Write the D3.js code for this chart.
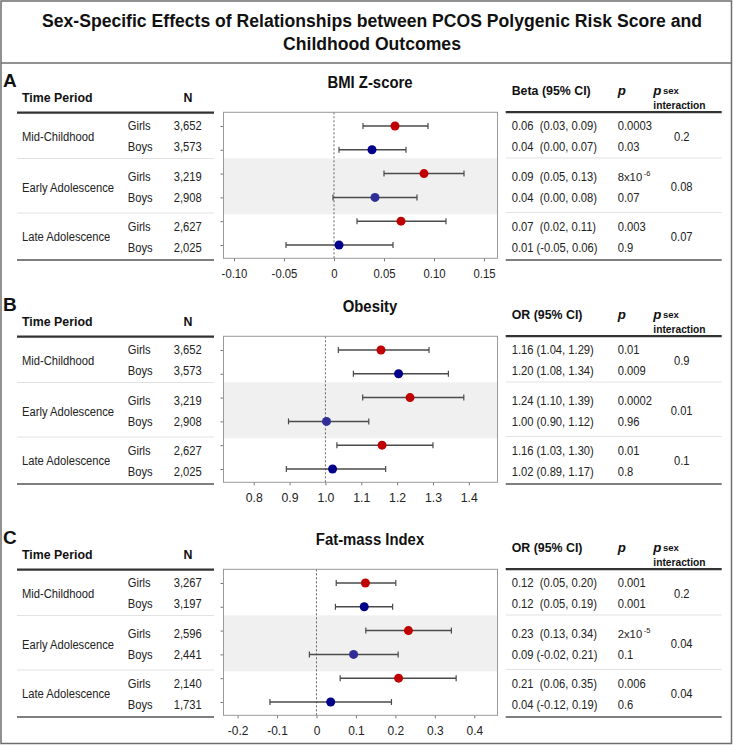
<!DOCTYPE html>
<html><head><meta charset="utf-8">
<script src="https://cdn.jsdelivr.net/npm/d3@7"></script>
<style>
html,body{margin:0;padding:0;background:#fff;}
text{font-family:"Liberation Sans",Arial,Helvetica,sans-serif;white-space:pre;}
</style></head>
<body><div id="chart"></div>
<script>
// ---------- DATA ----------
const mainTitle = ["Sex-Specific Effects of Relationships between PCOS Polygenic Risk Score and", "Childhood Outcomes"];
const panelLetters = ["A", "B", "C"];
const panelTitles = ["BMI Z-score", "Obesity", "Fat-mass Index"];
const effectHeaders = ["Beta (95% CI)", "OR (95% CI)", "OR (95% CI)"];
const periods = ["Mid-Childhood", "Early Adolescence", "Late Adolescence"];
const sexes = ["Girls", "Boys", "Girls", "Boys", "Girls", "Boys"];

const bmiN   = ["3,652", "3,573", "3,219", "2,908", "2,627", "2,025"];
const bmiEst = [0.061, 0.038, 0.090, 0.041, 0.067, 0.005];
const bmiLo  = [0.029, 0.005, 0.050, -0.001, 0.023, -0.048];
const bmiHi  = [0.094, 0.072, 0.130, 0.083, 0.112, 0.059];
const bmiCI  = ["0.06  (0.03, 0.09)", "0.04  (0.00, 0.07)", "0.09  (0.05, 0.13)", "0.04  (0.00, 0.08)", "0.07  (0.02, 0.11)", "0.01 (-0.05, 0.06)"];
const bmiP   = ["0.0003", "0.03", "8x10^-6", "0.07", "0.003", "0.9"];
const bmiPint = ["0.2", "0.08", "0.07"];
const bmiTicks = [-0.10, -0.05, 0, 0.05, 0.10, 0.15];
const bmiTickLabels = ["-0.10", "-0.05", "0", "0.05", "0.10", "0.15"];

const obN   = ["3,652", "3,573", "3,219", "2,908", "2,627", "2,025"];
const obEst = [1.155, 1.204, 1.236, 1.003, 1.158, 1.020];
const obLo  = [1.036, 1.078, 1.104, 0.897, 1.032, 0.891];
const obHi  = [1.289, 1.343, 1.386, 1.121, 1.300, 1.168];
const obCI  = ["1.16 (1.04, 1.29)", "1.20 (1.08, 1.34)", "1.24 (1.10, 1.39)", "1.00 (0.90, 1.12)", "1.16 (1.03, 1.30)", "1.02 (0.89, 1.17)"];
const obP   = ["0.01", "0.009", "0.0002", "0.96", "0.01", "0.8"];
const obPint = ["0.9", "0.01", "0.1"];
const obTicks = [0.8, 0.9, 1.0, 1.1, 1.2, 1.3, 1.4];
const obTickLabels = ["0.8", "0.9", "1.0", "1.1", "1.2", "1.3", "1.4"];

const fmiN   = ["3,267", "3,197", "2,596", "2,441", "2,140", "1,731"];
const fmiEst = [0.124, 0.121, 0.233, 0.094, 0.208, 0.036];
const fmiLo  = [0.050, 0.048, 0.125, -0.018, 0.060, -0.118];
const fmiHi  = [0.201, 0.193, 0.342, 0.207, 0.354, 0.190];
const fmiCI  = ["0.12  (0.05, 0.20)", "0.12  (0.05, 0.19)", "0.23  (0.13, 0.34)", "0.09 (-0.02, 0.21)", "0.21  (0.06, 0.35)", "0.04 (-0.12, 0.19)"];
const fmiP   = ["0.001", "0.001", "2x10^-5", "0.1", "0.006", "0.6"];
const fmiPint = ["0.2", "0.04", "0.04"];
const fmiTicks = [-0.2, -0.1, 0, 0.1, 0.2, 0.3, 0.4];
const fmiTickLabels = ["-0.2", "-0.1", "0", "0.1", "0.2", "0.3", "0.4"];

const nullValues = [0, 1, 0];
const xDomains = [[-0.1105, 0.1635], [0.7157, 1.480], [-0.2357, 0.4588]];

// ---------- BUILD ----------
const panels = [
  {n: bmiN, est: bmiEst, lo: bmiLo, hi: bmiHi, ci: bmiCI, p: bmiP, pint: bmiPint, ticks: bmiTicks, tl: bmiTickLabels, tfs: 12.3},
  {n: obN, est: obEst, lo: obLo, hi: obHi, ci: obCI, p: obP, pint: obPint, ticks: obTicks, tl: obTickLabels, tfs: 13.3},
  {n: fmiN, est: fmiEst, lo: fmiLo, hi: fmiHi, ci: fmiCI, p: fmiP, pint: fmiPint, ticks: fmiTicks, tl: fmiTickLabels, tfs: 13}
].map((d, i) => Object.assign(d, {letter: panelLetters[i], title: panelTitles[i], eh: effectHeaders[i], nul: nullValues[i], dom: xDomains[i]}));

const W = 733, H = 745;
const FB = 12.3, CB = 0.91;   // body font size / horizontal condensing
const FH = 13.3, CH = 0.93;   // header
const svg = d3.select("#chart").append("svg").attr("width", W).attr("height", H);
svg.append("rect").attr("width", W).attr("height", H).attr("fill", "#fff");

function condense(sel, f) {
  sel.each(function () {
    const w = this.getComputedTextLength();
    if (w > 0) d3.select(this).attr("textLength", w * f).attr("lengthAdjust", "spacingAndGlyphs");
  });
  return sel;
}

// outer frame + title box
svg.append("rect").attr("x", 1).attr("y", 1).attr("width", 730.5).attr("height", 742.5)
  .attr("fill", "none").attr("stroke", "#6e6e6e").attr("stroke-width", 1.5);
svg.append("line").attr("x1", 1).attr("x2", 731.5).attr("y1", 63).attr("y2", 63)
  .attr("stroke", "#6e6e6e").attr("stroke-width", 1.5);

svg.selectAll("text.mt").data(mainTitle).join("text").attr("class", "mt")
  .attr("x", 372).attr("y", (d, i) => 26.5 + i * 23)
  .attr("text-anchor", "middle").attr("font-weight", "bold").attr("font-size", 17.6)
  .attr("fill", "#111").text(d => d);

const offsets = [0, 224, 457];
const rowTextY = [126, 147, 176.5, 197.5, 227, 247.5];
const groupY = [136.7, 187.3, 236.7];
const sepY = [158.5, 213];

panels.forEach((P, pi) => {
  const g = svg.append("g").attr("transform", `translate(0,${offsets[pi]})`);

  g.append("text").attr("x", 3).attr("y", 87).attr("font-weight", "bold").attr("font-size", 19).attr("fill", "#111").text(P.letter);
  condense(g.append("text").attr("x", 370).attr("y", 88).attr("text-anchor", "middle").attr("font-weight", "bold").attr("font-size", 16).attr("fill", "#111").text(P.title), 0.93);

  // left table
  condense(g.append("text").attr("x", 22).attr("y", 101.5).attr("font-weight", "bold").attr("font-size", FH).attr("fill", "#111").text("Time Period"), CH);
  condense(g.append("text").attr("x", 188).attr("y", 101.5).attr("text-anchor", "middle").attr("font-weight", "bold").attr("font-size", FH).attr("fill", "#111").text("N"), CH);
  g.append("line").attr("x1", 17).attr("x2", 214).attr("y1", 112.7).attr("y2", 112.7).attr("stroke", "#333").attr("stroke-width", 2.2);
  g.selectAll("line.sepL").data(sepY).join("line").attr("class", "sepL")
    .attr("x1", 17).attr("x2", 214).attr("y1", d => d).attr("y2", d => d).attr("stroke", "#e2e2e2").attr("stroke-width", 1);
  g.append("line").attr("x1", 17).attr("x2", 214).attr("y1", 260).attr("y2", 260).attr("stroke", "#555").attr("stroke-width", 1.3);
  condense(g.selectAll("text.per").data(periods).join("text").attr("class", "per")
    .attr("x", 22).attr("y", (d, i) => groupY[i] + 4.3).attr("font-size", FB).attr("fill", "#222").text(d => d), CB);
  condense(g.selectAll("text.sex").data(sexes).join("text").attr("class", "sex")
    .attr("x", 127.7).attr("y", (d, i) => rowTextY[i] + 4.3).attr("font-size", FB).attr("fill", "#222").text(d => d), CB);
  condense(g.selectAll("text.nn").data(P.n).join("text").attr("class", "nn")
    .attr("x", 201.7).attr("y", (d, i) => rowTextY[i] + 4.3).attr("text-anchor", "end").attr("font-size", FB).attr("fill", "#222").text(d => d), CB);

  // right table
  condense(g.append("text").attr("x", 511.7).attr("y", 95).attr("font-weight", "bold").attr("font-size", FH).attr("fill", "#111").text(P.eh), CH);
  g.append("text").attr("x", 617.7).attr("y", 95).attr("font-weight", "bold").attr("font-style", "italic").attr("font-size", FH).attr("fill", "#111").text("p");
  g.append("text").attr("x", 653.3).attr("y", 95).attr("font-weight", "bold").attr("font-style", "italic").attr("font-size", FH).attr("fill", "#111").text("p");
  g.append("text").attr("x", 663).attr("y", 94).attr("font-weight", "bold").attr("font-size", 9.5).attr("fill", "#111").text("sex");
  condense(g.append("text").attr("x", 653.3).attr("y", 108.5).attr("font-weight", "bold").attr("font-size", 11).attr("fill", "#111").text("interaction"), CH);
  g.append("line").attr("x1", 505.7).attr("x2", 721.7).attr("y1", 112.2).attr("y2", 112.2).attr("stroke", "#333").attr("stroke-width", 2.2);
  g.selectAll("line.sepR").data(sepY).join("line").attr("class", "sepR")
    .attr("x1", 505.7).attr("x2", 721.7).attr("y1", d => d - 0.5).attr("y2", d => d - 0.5).attr("stroke", "#e2e2e2").attr("stroke-width", 1);
  g.append("line").attr("x1", 505.7).attr("x2", 721.7).attr("y1", 260).attr("y2", 260).attr("stroke", "#555").attr("stroke-width", 1.3);
  condense(g.selectAll("text.ci").data(P.ci).join("text").attr("class", "ci")
    .attr("x", 511.7).attr("y", (d, i) => rowTextY[i] + 4).attr("font-size", FB).attr("fill", "#222").text(d => d), CB);
  // p values (exponent drawn as a separate raised text beside the base)
  P.p.forEach((s, i) => {
    const parts = s.split("^");
    const base = g.append("text").attr("class", "pv").attr("x", 617.7).attr("y", rowTextY[i] + 4)
      .attr("font-size", parts.length > 1 ? 11.3 : FB).attr("fill", "#222").text(parts[0]);
    if (parts.length > 1) {
      const w = base.node().getComputedTextLength();
      g.append("text").attr("class", "pexp").attr("x", 617.7 + w + 1.5).attr("y", rowTextY[i] - 1)
        .attr("font-size", 7.5).attr("fill", "#222").text(parts[1]);
    } else {
      condense(base, CB);
    }
  });
  condense(g.selectAll("text.pi").data(P.pint).join("text").attr("class", "pi")
    .attr("x", 681.7).attr("y", (d, i) => groupY[i] + 4).attr("text-anchor", "middle").attr("font-size", FB).attr("fill", "#222").text(d => d), CB);

  // forest plot
  const fx0 = 223.5, fx1 = 497.5, fy0 = 112.3, fy1 = 258.3;
  const x = d3.scaleLinear().domain(P.dom).range([fx0, fx1]);
  const y = d3.scaleLinear().domain([-0.575, 5.56]).range([fy0, fy1]);
  const rows = d3.range(6);

  g.append("rect").attr("x", fx0).attr("y", y(1.36)).attr("width", fx1 - fx0).attr("height", y(3.71) - y(1.36)).attr("fill", "#f0f0f0");

  g.append("line").attr("x1", x(P.nul)).attr("x2", x(P.nul)).attr("y1", fy0).attr("y2", fy1)
    .attr("stroke", "#555").attr("stroke-width", 0.9).attr("stroke-dasharray", "2,2");

  const yAxis = d3.axisLeft(y).tickValues(rows).tickSize(3).tickFormat("");
  const ya = g.append("g").attr("transform", `translate(${fx0},0)`).call(yAxis);
  ya.select(".domain").remove();
  ya.selectAll("line").attr("stroke", "#777");

  const xAxis = d3.axisBottom(x).tickValues(P.ticks).tickSize(3).tickFormat((d, i) => P.tl[i]);
  const xa = g.append("g").attr("transform", `translate(0,${fy1})`).call(xAxis);
  xa.select(".domain").remove();
  xa.selectAll("line").attr("stroke", "#777");
  const tt = xa.selectAll("text").attr("font-size", P.tfs).attr("fill", "#222").attr("dy", null).attr("y", 19.5)
    .style("font-family", '"Liberation Sans",Arial,Helvetica,sans-serif');
  condense(tt, 0.92);

  const eb = g.append("g");
  eb.selectAll("line.ci").data(rows).join("line").attr("class", "ci")
    .attr("x1", i => x(P.lo[i])).attr("x2", i => x(P.hi[i])).attr("y1", i => y(i)).attr("y2", i => y(i))
    .attr("stroke", "#4a4a4a").attr("stroke-width", 1.5);
  eb.selectAll("line.capl").data(rows).join("line").attr("class", "capl")
    .attr("x1", i => x(P.lo[i])).attr("x2", i => x(P.lo[i])).attr("y1", i => y(i) - 3).attr("y2", i => y(i) + 3)
    .attr("stroke", "#4a4a4a").attr("stroke-width", 1.2);
  eb.selectAll("line.caph").data(rows).join("line").attr("class", "caph")
    .attr("x1", i => x(P.hi[i])).attr("x2", i => x(P.hi[i])).attr("y1", i => y(i) - 3).attr("y2", i => y(i) + 3)
    .attr("stroke", "#4a4a4a").attr("stroke-width", 1.2);
  eb.selectAll("circle").data(rows).join("circle")
    .attr("cx", i => x(P.est[i])).attr("cy", i => y(i)).attr("r", 4.5)
    .attr("fill", i => sexes[i] === "Girls" ? "#c00000" : (i === 3 ? "#2e2e96" : "#00008b"));

  g.append("rect").attr("x", fx0).attr("y", fy0).attr("width", fx1 - fx0).attr("height", fy1 - fy0)
    .attr("fill", "none").attr("stroke", "#9a9a9a").attr("stroke-width", 1);
});
</script>
</body></html>
